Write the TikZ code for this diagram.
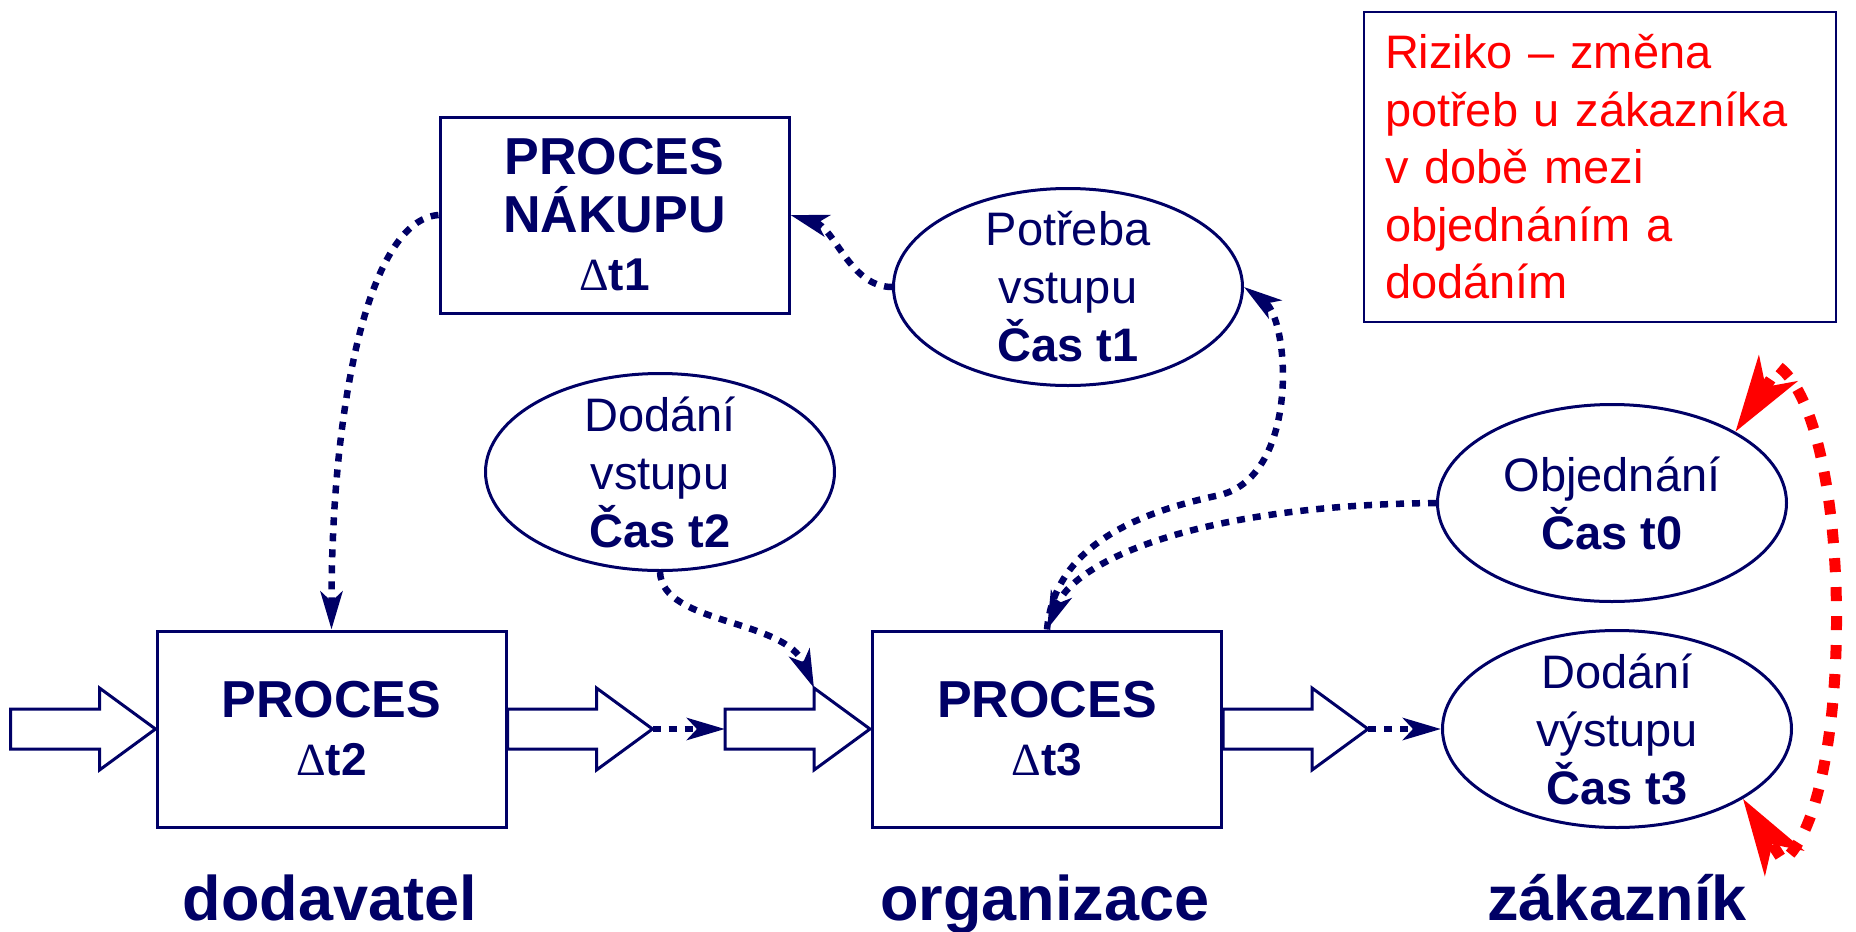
\documentclass[tikz,border=0pt]{standalone}
\usepackage{fontspec}
\setmainfont{Liberation Sans}
\newfontfamily\deltafont{Liberation Serif}
\usetikzlibrary{shapes.geometric,arrows.meta}
\definecolor{navy}{RGB}{0,0,102}
\definecolor{riskred}{RGB}{255,0,0}
\newcommand\mydelta{{\deltafont\mdseries Δ}}
\newcommand\dtline[1]{{\fontsize{46}{58}\selectfont\mydelta t#1}}
\begin{document}
\begin{tikzpicture}[x=1pt,y=-1pt,
  box/.style={draw=navy, line width=3pt, fill=white, minimum width=349pt, minimum height=196pt,
    inner sep=0pt, align=center, text=navy, font=\fontsize{52}{58}\selectfont\bfseries},
  oval/.style={ellipse, draw=navy, line width=3pt, fill=white, minimum width=349pt, minimum height=197pt,
    inner sep=-20pt, align=center, text=navy, font=\fontsize{47}{58}\selectfont},
  blk/.style={draw=navy, line width=3pt, fill=white, line join=miter},
  flow/.style={draw=navy, line width=6.5pt, dash pattern=on 8pt off 8pt,
    -{Stealth[length=38pt,width=22pt,inset=10pt]}},
  risk/.style={draw=riskred, line width=11pt, dash pattern=on 14pt off 15pt,
    {Stealth[length=76pt,width=46pt,inset=22pt]}-{Stealth[length=76pt,width=46pt,inset=22pt]}},
  lbl/.style={text=navy, font=\fontsize{63}{70}\selectfont\bfseries, anchor=base},
  note/.style={draw=navy, line width=2pt, fill=white, text=riskred, font=\fontsize{47}{57.5}\selectfont,
    align=left, text width=430pt, minimum width=472pt, minimum height=310pt, inner xsep=21pt, inner ysep=0pt},
  blockarr/.pic={
    \draw[blk] (0,-20) -- (89,-20) -- (89,-41) -- (145,0) -- (89,41) -- (89,20) -- (0,20) -- cycle;
    \coordinate (-tail) at (0,0);
    \coordinate (-tip) at (145,0);
    \coordinate (-top) at (89,-41);
  }
]
\useasboundingbox (0,0) rectangle (1856,932);

% nodes
\node[box] (nak) at (614.5,215) {PROCES\\NÁKUPU\\\dtline{1}};
\node[oval] (pot) at (1068,287) {Potřeba\\vstupu\\\textbf{Čas t1}};
\node[oval] (dv2) at (660,472) {Dodání\\vstupu\\\textbf{Čas t2}};
\node[oval] (obj) at (1612,503) {Objednání\\\textbf{Čas t0}};
\node[oval] (dv3) at (1617,729) {Dodání\\výstupu\\\textbf{Čas t3}};
\node[box] (p2) at (331.5,729) {PROCES\\\dtline{2}};
\node[box] (p3) at (1047,729) {PROCES\\\dtline{3}};
\node[note, anchor=north west] (risknote) at (1363,11)
  {Riziko – změna\\potřeb u zákazníka\\v době mezi\\objednáním a\\dodáním};

% block arrows
\pic (a1) at ([xshift=-145pt]p2.west) {blockarr};
\pic (a2) at (p2.east) {blockarr};
\pic (a3) at ([xshift=-146pt]p3.west) {blockarr};
\pic (a4) at (p3.east) {blockarr};

% labels
\node[lbl] (ldod) at (330,920) {dodavatel};
\node[lbl] (lorg) at (1045,920) {organizace};
\node[lbl] (lzak) at (1617,920) {zákazník};

% dotted connectors
\draw[flow] (nak.west) .. controls (370,220) and (331.5,400) .. (p2.north);
\draw[flow] (pot.west) .. controls (850,287) and (835,228) .. (nak.east);
\draw[flow] (dv2.south) .. controls (662,625) and (785,618) .. (a3-top);
\draw[flow] (a2-tip) -- (a3-tail);
\draw[flow] (a4-tip) -- (dv3.west);
\draw[flow] (obj.west) .. controls (1200,505) and (1075,560) .. (p3.north);
\draw[flow] (p3.north) .. controls (1055,540) and (1150,510) .. (1220,495)
  .. controls (1300,475) and (1290,320) .. (pot.east);

% risk arc
\draw[risk] (obj.30) -- (1779,367) .. controls (1855,425) and (1855,805) .. (1783,861) -- (dv3.-29);
\end{tikzpicture}
\end{document}
